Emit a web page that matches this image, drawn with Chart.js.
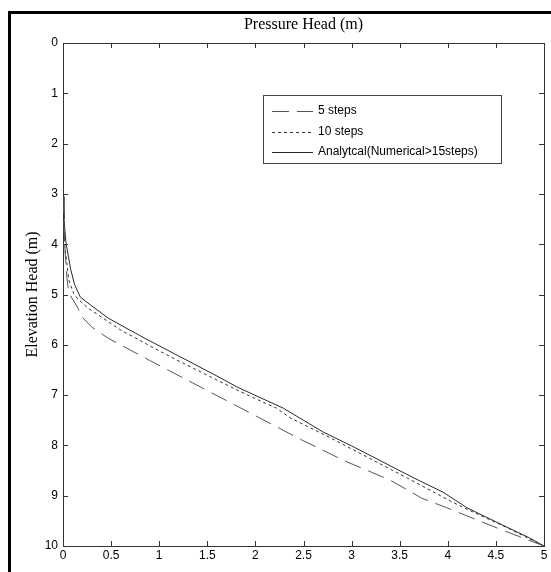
<!DOCTYPE html>
<html>
<head>
<meta charset="utf-8">
<script src="https://cdn.jsdelivr.net/npm/chart.js@4.4.0/dist/chart.umd.min.js"></script>
<style>
  body { margin: 0; background: #fff; }
  #wrap { width: 551px; height: 572px; }
</style>
</head>
<body>
<div id="wrap"><canvas id="chart" width="551" height="572"></canvas></div>
<script>
// values
const steps5X = [0, 0.01, 0.02, 0.04, 0.06, 0.15, 0.2, 0.3, 0.47, 0.9, 1.35, 1.87, 2.48, 2.93, 3.4, 3.73, 3.99, 4.51, 4.78, 5];
const steps5Y = [3.05, 3.6, 4.1, 4.65, 4.97, 5.25, 5.45, 5.65, 5.87, 6.31, 6.76, 7.28, 7.89, 8.31, 8.69, 9.05, 9.24, 9.64, 9.84, 10];

const steps10X = [0, 0.01, 0.02, 0.04, 0.06, 0.11, 0.16, 0.26, 0.4, 0.61, 0.75, 0.9, 1.18, 1.39, 1.6, 1.81, 2.01, 2.22, 2.36, 2.78, 3.58, 4.05, 4.2, 4.6, 5];
const steps10Y = [3.05, 3.6, 4.05, 4.37, 4.71, 4.98, 5.1, 5.27, 5.45, 5.72, 5.86, 6.02, 6.3, 6.5, 6.7, 6.9, 7.08, 7.26, 7.45, 7.85, 8.65, 9.13, 9.27, 9.62, 10];

const analyticX = [0, 0.01, 0.03, 0.08, 0.12, 0.18, 0.26, 0.47, 0.64, 0.85, 1.18, 1.6, 1.81, 2.29, 2.7, 3.0, 3.65, 3.95, 4.2, 4.5, 4.85, 5];
const analyticY = [3.05, 3.5, 3.96, 4.5, 4.8, 5.05, 5.17, 5.47, 5.65, 5.87, 6.2, 6.62, 6.84, 7.26, 7.73, 8.01, 8.65, 8.93, 9.24, 9.52, 9.84, 10];

const seriesLabels = ['5 steps', '10 steps', 'Analytcal(Numerical>15steps)'];

function toPoints(xs, ys) {
    return xs.map((x, i) => ({ x: x, y: ys[i] }));
}

const sans = 'Liberation Sans, Arial, sans-serif';
const serif = 'Liberation Serif, Times New Roman, serif';
const axisColor = '#333';

// inward tick marks on all four sides, like the original box
const boxTicks = {
    id: 'boxTicks',
    afterDraw(chart) {
        const ctx = chart.ctx;
        const a = chart.chartArea;
        const len = 5;
        ctx.save();
        ctx.strokeStyle = axisColor;
        ctx.lineWidth = 1;
        ctx.beginPath();
        chart.scales.x.ticks.forEach(t => {
            const px = Math.round(chart.scales.x.getPixelForValue(t.value)) + 0.5;
            ctx.moveTo(px, a.bottom);
            ctx.lineTo(px, a.bottom - len);
            ctx.moveTo(px, a.top);
            ctx.lineTo(px, a.top + len);
        });
        chart.scales.y.ticks.forEach(t => {
            const py = Math.round(chart.scales.y.getPixelForValue(t.value)) + 0.5;
            ctx.moveTo(a.left, py);
            ctx.lineTo(a.left + len, py);
            ctx.moveTo(a.right, py);
            ctx.lineTo(a.right - len, py);
        });
        ctx.stroke();
        ctx.restore();
    }
};

// thick black frame on the left and top of the figure
const figureFrame = {
    id: 'figureFrame',
    beforeDraw(chart) {
        const ctx = chart.ctx;
        ctx.save();
        ctx.fillStyle = '#fff';
        ctx.fillRect(0, 0, chart.width, chart.height);
        ctx.fillStyle = '#000';
        ctx.fillRect(8, 11, 3, chart.height - 11);
        ctx.fillRect(8, 11, chart.width - 8, 3);
        ctx.restore();
    }
};

// boxed legend inside the plot
const boxLegend = {
    id: 'boxLegend',
    afterDraw(chart) {
        const ctx = chart.ctx;
        const bx = 263.5, by = 95.5, bw = 238, bh = 68;
        ctx.save();
        ctx.fillStyle = '#fff';
        ctx.fillRect(bx, by, bw, bh);
        ctx.strokeStyle = '#444';
        ctx.lineWidth = 1;
        ctx.strokeRect(bx, by, bw, bh);
        const rows = [111, 132, 152];
        ctx.font = '12px ' + sans;
        ctx.textBaseline = 'middle';
        chart.data.datasets.forEach((ds, i) => {
            const y = rows[i] + 0.5;
            ctx.strokeStyle = ds.borderColor;
            ctx.setLineDash(ds.borderDash || []);
            ctx.beginPath();
            ctx.moveTo(272, y);
            ctx.lineTo(313, y);
            ctx.stroke();
            ctx.setLineDash([]);
            ctx.fillStyle = '#000';
            ctx.fillText(ds.label, 318, rows[i]);
        });
        ctx.restore();
    }
};

new Chart(document.getElementById('chart').getContext('2d'), {
    type: 'line',
    data: {
        datasets: [
            {
                label: seriesLabels[0],
                data: toPoints(steps5X, steps5Y),
                borderColor: '#555',
                borderWidth: 1,
                borderDash: [17, 8]
            },
            {
                label: seriesLabels[1],
                data: toPoints(steps10X, steps10Y),
                borderColor: '#333',
                borderWidth: 1,
                borderDash: [3, 3]
            },
            {
                label: seriesLabels[2],
                data: toPoints(analyticX, analyticY),
                borderColor: '#2a2a2a',
                borderWidth: 1
            }
        ]
    },
    options: {
        responsive: false,
        animation: false,
        elements: {
            point: { radius: 0 },
            line: { tension: 0, fill: false }
        },
        layout: { padding: 0 },
        plugins: {
            legend: { display: false },
            tooltip: { enabled: false }
        },
        scales: {
            x: {
                type: 'linear',
                position: 'bottom',
                min: 0,
                max: 5,
                ticks: {
                    stepSize: 0.5,
                    padding: 2,
                    color: '#000',
                    font: { family: sans, size: 12 },
                    callback: v => String(Math.round(v * 10) / 10)
                },
                grid: { display: false, drawTicks: false },
                border: { display: true, color: axisColor },
                afterFit(s) { s.height = 26; }
            },
            x2: {
                type: 'linear',
                position: 'top',
                min: 0,
                max: 5,
                ticks: { display: false },
                grid: { display: false, drawTicks: false },
                border: { display: true, color: axisColor },
                title: {
                    display: true,
                    text: 'Pressure Head (m)',
                    color: '#000',
                    font: { family: serif, size: 16 },
                    padding: { top: 15, bottom: 0 }
                },
                afterFit(s) { s.height = 43; }
            },
            y: {
                type: 'linear',
                position: 'left',
                reverse: true,
                min: 0,
                max: 10,
                ticks: { stepSize: 1, padding: 5, color: '#000', font: { family: sans, size: 12 } },
                grid: { display: false, drawTicks: false },
                border: { display: true, color: axisColor },
                title: {
                    display: true,
                    text: 'Elevation Head (m)',
                    color: '#000',
                    font: { family: serif, size: 16 },
                    padding: { top: 23, bottom: 0 }
                },
                afterFit(s) { s.width = 63; }
            },
            y2: {
                type: 'linear',
                position: 'right',
                reverse: true,
                min: 0,
                max: 10,
                ticks: { display: false },
                grid: { display: false, drawTicks: false },
                border: { display: true, color: axisColor },
                afterFit(s) { s.width = 7; }
            }
        }
    },
    plugins: [figureFrame, boxTicks, boxLegend]
});
</script>
</body>
</html>
